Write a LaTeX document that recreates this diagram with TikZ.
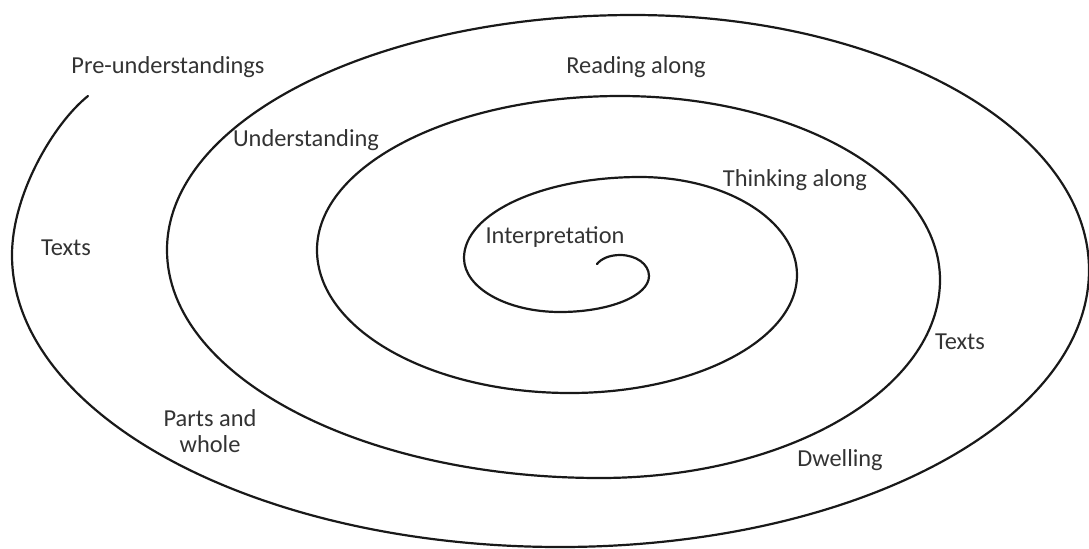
\documentclass[tikz,border=0pt]{standalone}
\usepackage{fontspec}
\setmainfont{Carlito}
\tikzset{
    spiralline/.style={line width=1.1pt, black!90, line cap=round, line join=round},
    lbl/.style={text=black!80, font=\fontsize{12.2}{13}\selectfont, inner sep=0pt, align=center}
}

\begin{document}
\begin{tikzpicture}[x=0.5pt, y=-0.5pt]
    \useasboundingbox (0,0) rectangle (1089,548);

    % the spiral, quarter turn by quarter turn, from the outer end inwards
    \draw[spiralline] (88,96)
        .. controls (53,124) and (12,195) .. (12,255)
        .. controls (12,416) and (258,547) .. (560,547)
        .. controls (852,547) and (1089,423) .. (1089,270)
        .. controls (1089,129) and (885,15) .. (633,15)
        .. controls (376,15) and (167,120) .. (167,250)
        .. controls (167,376) and (361,478) .. (600,478)
        .. controls (788,478) and (940,389) .. (940,280)
        .. controls (940,178) and (797,96) .. (620,96)
        .. controls (453,96) and (317,165) .. (317,250)
        .. controls (317,329) and (430,393) .. (570,393)
        .. controls (695,393) and (797,340) .. (797,275)
        .. controls (797,221) and (727,177) .. (640,177)
        .. controls (543,177) and (464,213) .. (464,258)
        .. controls (464,288) and (507,312) .. (560,312)
        .. controls (609,312) and (649,296) .. (649,276)
        .. controls (649,264) and (636,255) .. (620,255)
        .. controls (609,255) and (601,259) .. (597,264);

    % labels
    \node[lbl] (preund)   at (168,67)  {Pre-understandings};
    \node[lbl] (und)      at (306,140) {Understanding};
    \node[lbl] (textsl)   at (66,248)  {Texts};
    \node[lbl] (reading)  at (636,67)  {Reading along};
    \node[lbl] (thinking) at (795,180) {Thinking along};
    \node[lbl] (interp)   at (555,237) {Interpretation};
    \node[lbl] (textsr)   at (960,342) {Texts};
    \node[lbl] (dwell)    at (840,460) {Dwelling};
    \node[lbl] (parts)    at (210,431) {Parts and\\whole};
\end{tikzpicture}
\end{document}
